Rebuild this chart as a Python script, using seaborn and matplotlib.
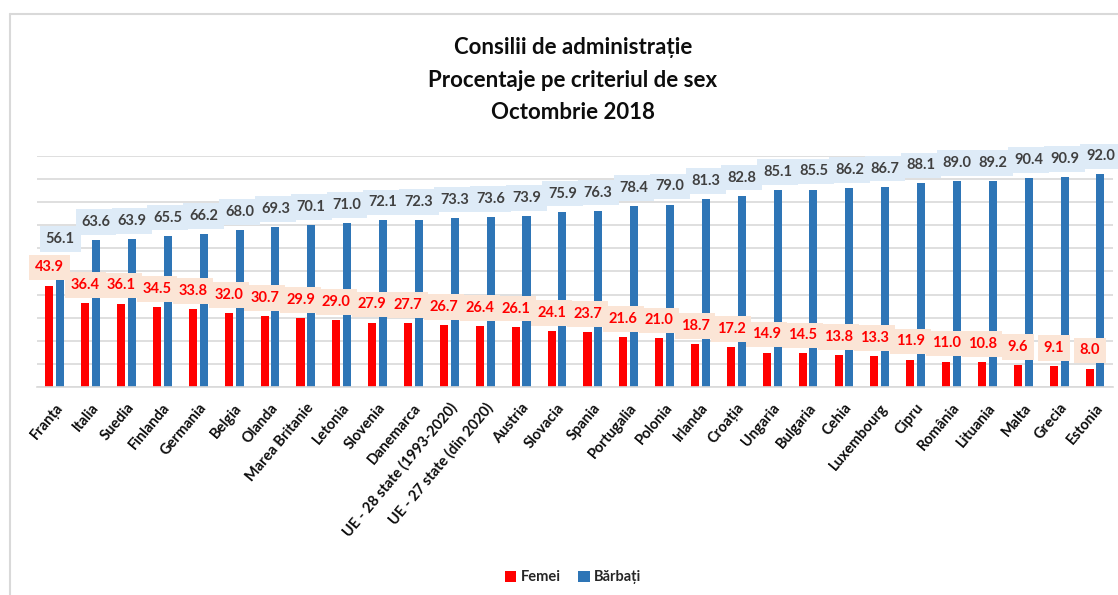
import pandas as pd
import seaborn as sns
import matplotlib.pyplot as plt
from matplotlib.lines import Line2D

tari = ['Franța', 'Italia', 'Suedia', 'Finlanda', 'Germania', 'Belgia', 'Olanda',
        'Marea Britanie', 'Letonia', 'Slovenia', 'Danemarca',
        'UE - 28 state (1993-2020)', 'UE - 27 state (din 2020)', 'Austria',
        'Slovacia', 'Spania', 'Portugalia', 'Polonia', 'Irlanda', 'Croația',
        'Ungaria', 'Bulgaria', 'Cehia', 'Luxembourg', 'Cipru', 'România',
        'Lituania', 'Malta', 'Grecia', 'Estonia']
femei = [43.9, 36.4, 36.1, 34.5, 33.8, 32.0, 30.7, 29.9, 29.0, 27.9, 27.7, 26.7,
         26.4, 26.1, 24.1, 23.7, 21.6, 21.0, 18.7, 17.2, 14.9, 14.5, 13.8, 13.3,
         11.9, 11.0, 10.8, 9.6, 9.1, 8.0]
barbati = [56.1, 63.6, 63.9, 65.5, 66.2, 68.0, 69.3, 70.1, 71.0, 72.1, 72.3, 73.3,
           73.6, 73.9, 75.9, 76.3, 78.4, 79.0, 81.3, 82.8, 85.1, 85.5, 86.2, 86.7,
           88.1, 89.0, 89.2, 90.4, 90.9, 92.0]
serii = ['Femei', 'Bărbați']

df = pd.DataFrame({'tara': tari * 2,
                   'sex': [serii[0]] * len(tari) + [serii[1]] * len(tari),
                   'procent': femei + barbati})

sns.set_style('white')
plt.rcParams['font.family'] = ['Lato', 'DejaVu Sans']
plt.rcParams['font.weight'] = 'bold'

fig = plt.figure(figsize=(11.18, 5.95), dpi=100)
ax = fig.add_axes([0.033, 0.3496, 0.9625, 0.3882])

culori = {'Femei': '#FF0000', 'Bărbați': '#2E75B6'}
sns.barplot(data=df, x='tara', y='procent', hue='sex', hue_order=serii,
            palette=culori, saturation=1, width=0.6, gap=0.25, linewidth=0, ax=ax)

ax.set_ylim(0, 100)
ax.set_xlim(-0.5, len(tari) - 0.5)
ax.set_yticks(range(0, 101, 10))
ax.set_yticklabels([])
ax.tick_params(axis='y', length=0)
ax.grid(axis='y', color='#D9D9D9', linewidth=1.2)
ax.set_axisbelow(True)
for s in ['top', 'right', 'left']:
    ax.spines[s].set_visible(False)
ax.spines['bottom'].set_color('#D9D9D9')
ax.spines['bottom'].set_linewidth(1.2)
ax.set_xlabel('')
ax.set_ylabel('')
ax.tick_params(axis='x', length=0, pad=10)
plt.setp(ax.get_xticklabels(), rotation=50, ha='right', rotation_mode='anchor',
         fontsize=10.5, fontweight='bold', color='#0d0d0d')

# etichete cu fundal
stil = [('#FF0000', '#FBE5D6'), ('#404040', '#DEEBF7')]
for cont, (ctext, cfund) in zip(ax.containers, stil):
    ax.bar_label(cont, fmt='%.1f', padding=8, fontsize=10.5, fontweight='bold',
                 color=ctext,
                 bbox=dict(boxstyle='square,pad=0.4', fc=cfund, ec='none'))

handles, labels = ax.get_legend_handles_labels()
ax.get_legend().remove()
fig.legend(handles, labels, loc='center', bbox_to_anchor=(0.5125, 0.03), ncol=2,
           frameon=False, handlelength=0.8, handleheight=0.8, handletextpad=0.3,
           columnspacing=1.2, prop={'size': 10.5, 'weight': 'bold'})

fig.text(0.5125, 0.8655, 'Consilii de administrație\nProcentaje pe criteriul de sex\nOctombrie 2018',
         ha='center', va='center', fontsize=16, fontweight='bold',
         linespacing=1.65, color='#0d0d0d')

# chenarul graficului
fig.add_artist(Line2D([10 / 1118, 1], [1 - 14 / 595] * 2, color='#D9D9D9', lw=1.5))
fig.add_artist(Line2D([10 / 1118] * 2, [0, 1 - 14 / 595], color='#D9D9D9', lw=1.5))

fig.savefig('out.png', dpi=100)
